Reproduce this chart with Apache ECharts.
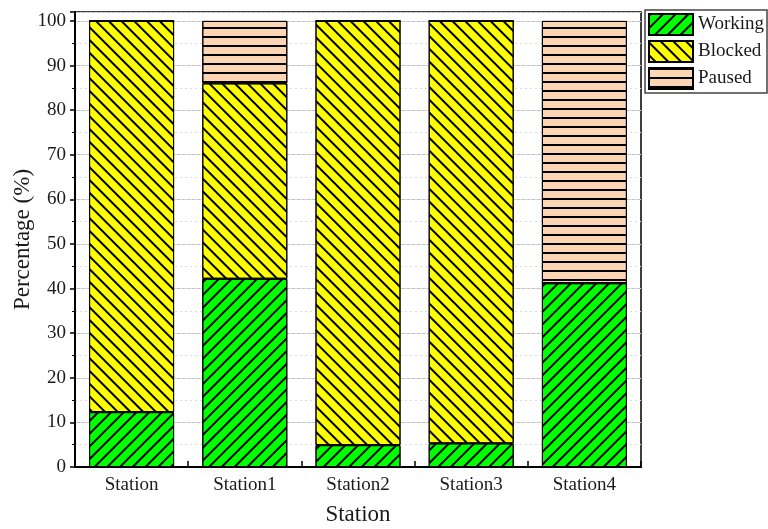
<!DOCTYPE html>
<html>
<head>
<meta charset="utf-8">
<script src="https://cdn.jsdelivr.net/npm/echarts@6/dist/echarts.min.js"></script>
<style>
  html, body { margin: 0; padding: 0; background: #fff; }
  #chart { width: 768px; height: 529px; }
</style>
</head>
<body>
<div id="chart"></div>
<script>
// Share of time each station spends in each state (%)
const categories = ['Station', 'Station1', 'Station2', 'Station3', 'Station4'];
const working = [12.3, 42.2, 4.9, 5.3, 41.2];
const blocked = [87.7, 43.8, 95.1, 94.7, 0];
const paused = [0, 14.0, 0, 0, 58.8];
const yTicks = [0, 10, 20, 30, 40, 50, 60, 70, 80, 90, 100];

const FONT = "'Liberation Serif', 'Times New Roman', serif";
const TEXT = '#1a1a1a';

// hatch pattern helper: rotated thin black stripes
function hatch(rotation) {
  return {
    symbol: 'rect',
    symbolSize: 1,
    color: '#000',
    dashArrayX: [1, 0],
    dashArrayY: [2, 7],
    rotation: rotation
  };
}

// value first so the stack runs on the percentage, station index second
function toPoints(arr) {
  return arr.map((v, i) => [v, i]);
}

const chart = echarts.init(document.getElementById('chart'), null, { renderer: 'canvas' });

const barBase = { type: 'bar', stack: 'total', barWidth: 85, encode: { x: 1, y: 0 } };

chart.setOption({
  animation: false,
  backgroundColor: '#fff',
  grid: {
    left: 75, right: 127, top: 12, bottom: 62,
    outerBoundsMode: 'none',
    containLabel: false,
    show: true, borderColor: '#000', borderWidth: 1.5, backgroundColor: 'transparent'
  },
  legend: {
    orient: 'vertical',
    left: 645, top: 10,
    padding: [3, 3, 3, 3],
    itemGap: 4,
    itemWidth: 44, itemHeight: 21,
    icon: 'rect',
    borderColor: '#444', borderWidth: 1.5,
    textStyle: { fontFamily: FONT, fontSize: 19, color: TEXT, lineHeight: 21 },
    data: ['Working', 'Blocked', 'Paused']
  },
  xAxis: {
    type: 'value',
    min: -0.5, max: categories.length - 0.5, interval: 0.5,
    name: 'Station',
    nameLocation: 'middle',
    nameGap: 36,
    nameMoveOverlap: false,
    nameTextStyle: { fontFamily: FONT, fontSize: 23, color: TEXT },
    axisLine: { onZero: false, lineStyle: { color: '#000', width: 2 } },
    axisTick: { inside: true, length: 6, lineStyle: { color: '#000', width: 1.5 } },
    axisLabel: {
      fontFamily: FONT, fontSize: 19, color: TEXT, margin: 9,
      formatter: v => (Number.isInteger(v) ? categories[v] : '')
    },
    splitLine: { show: false }
  },
  yAxis: [
    {
      type: 'value',
      min: 0, max: 102, interval: 10,
      name: 'Percentage (%)',
      nameLocation: 'middle',
      nameGap: 41,
      nameMoveOverlap: false,
      nameTextStyle: { fontFamily: FONT, fontSize: 23, color: TEXT },
      axisLine: { show: true, onZero: false, lineStyle: { color: '#000', width: 2 } },
      axisTick: { show: true, inside: false, length: 5, lineStyle: { color: '#000', width: 1.5 } },
      minorTick: { show: true, splitNumber: 2, length: 3, lineStyle: { color: '#000', width: 1 } },
      axisLabel: {
        fontFamily: FONT, fontSize: 19, color: TEXT, margin: 9, showMaxLabel: false,
        formatter: v => (yTicks.includes(v) ? String(v) : '')
      },
      splitLine: { show: true, lineStyle: { color: '#c4c4c4', width: 1 } }
    },
    {
      // minor dotted grid every 5 %
      type: 'value',
      min: 0, max: 102, interval: 5,
      axisLine: { show: false, onZero: false },
      axisTick: { show: false },
      axisLabel: { show: false },
      splitLine: { show: true, lineStyle: { color: '#dcdcdc', width: 1, type: [2, 3] } }
    }
  ],
  series: [
    Object.assign({}, barBase, {
      name: 'Working',
      data: toPoints(working),
      itemStyle: { color: '#00ff00', borderColor: '#000', borderWidth: 1, decal: hatch(-Math.PI / 4) }
    }),
    Object.assign({}, barBase, {
      name: 'Blocked',
      data: toPoints(blocked),
      itemStyle: { color: '#ffff00', borderColor: '#000', borderWidth: 1, decal: hatch(Math.PI / 4) }
    }),
    Object.assign({}, barBase, {
      name: 'Paused',
      data: toPoints(paused),
      itemStyle: { color: '#fcd5b4', borderColor: '#000', borderWidth: 1, decal: hatch(0) }
    })
  ]
});
</script>
</body>
</html>
